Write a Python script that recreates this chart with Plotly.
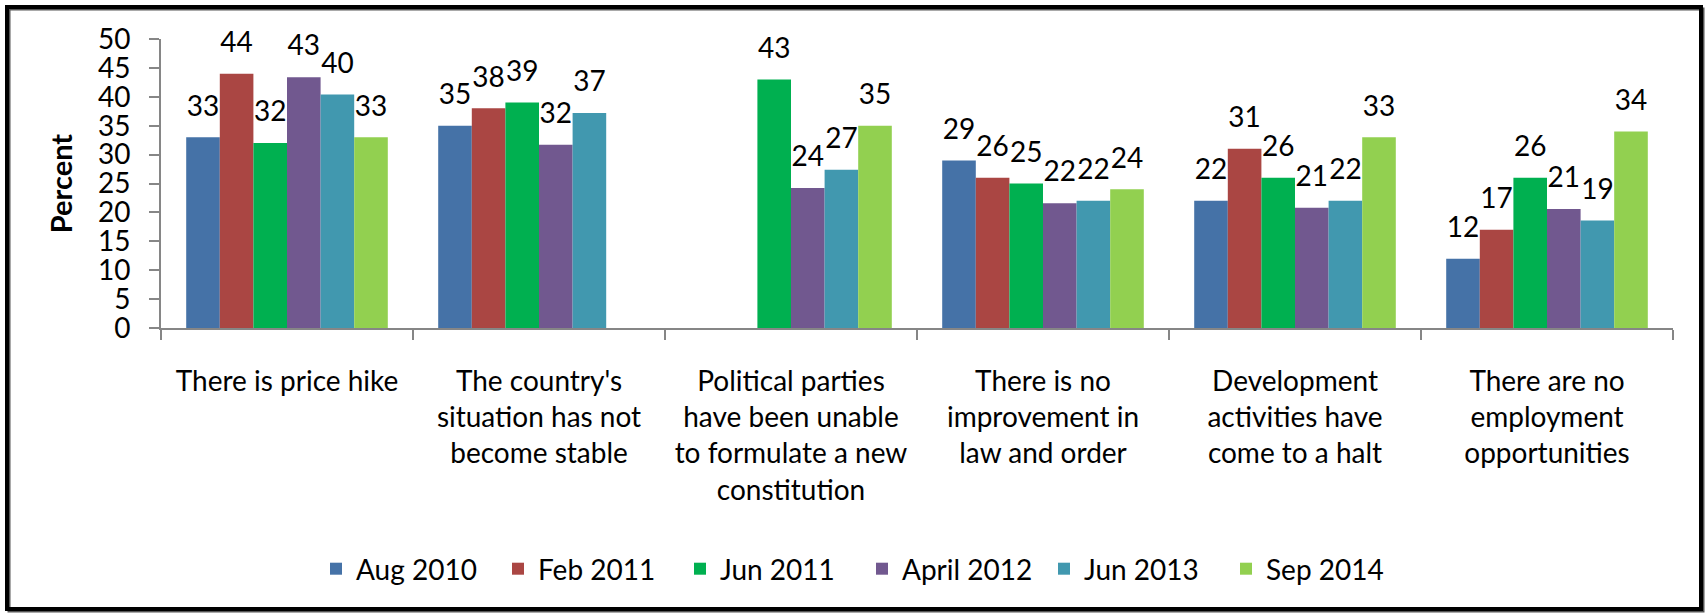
import plotly.graph_objects as go

categories = [
    "There is price hike",
    "The country's<br>situation has not<br>become stable",
    "Political parties<br>have been unable<br>to formulate a new<br>constitution",
    "There is no<br>improvement in<br>law and order",
    "Development<br>activities have<br>come to a halt",
    "There are no<br>employment<br>opportunities",
]

series_names = ["Aug 2010", "Feb 2011", "Jun 2011", "April 2012", "Jun 2013", "Sep 2014"]

aug_2010 = [33, 35, None, 29, 22, 12]
feb_2011 = [44, 38, None, 26, 31, 17]
jun_2011 = [32, 39, 43, 25, 26, 26]
apr_2012 = [43.4, 31.7, 24.2, 21.6, 20.8, 20.6]
jun_2013 = [40.4, 37.2, 27.4, 22.0, 22.0, 18.6]
sep_2014 = [33, None, 35, 24, 33, 34]

series_values = [aug_2010, feb_2011, jun_2011, apr_2012, jun_2013, sep_2014]
colors = ["#4572A7", "#AA4643", "#00B050", "#71588F", "#4198AF", "#92D050"]

y_ticks = [0, 5, 10, 15, 20, 25, 30, 35, 40, 45, 50]

FONT = "Lato, 'Open Sans', sans-serif"

fig = go.Figure()
for name, vals, col in zip(series_names, series_values, colors):
    fig.add_trace(go.Bar(
        name=name,
        x=categories,
        y=vals,
        marker=dict(color=col, line=dict(width=0)),
        offsetgroup=name,
        hoverinfo="skip",
    ))

# value labels, grouped like the bars, lifted above the bar tops
for name, vals in zip(series_names, series_values):
    fig.add_trace(go.Scatter(
        x=categories,
        y=vals,
        mode="markers+text",
        marker=dict(size=22, color="rgba(0,0,0,0)"),
        texttemplate="%{y:.0f}",
        textposition="top center",
        textfont=dict(size=28, color="black", family=FONT),
        offsetgroup=name,
        showlegend=False,
        cliponaxis=False,
        hoverinfo="skip",
    ))

W, H = 1705, 613
L, R, T, B = 161, 32, 39, 285
pw = W - L - R
ph = H - T - B

def px(x):
    return (x - L) / pw

def py(y):
    return (H - B - y) / ph

fig.update_layout(
    width=W, height=H,
    barmode="group",
    bargap=0.2,
    bargroupgap=0,
    scattermode="group",
    scattergap=0.2,
    plot_bgcolor="white",
    paper_bgcolor="white",
    margin=dict(l=L, r=R, t=T, b=B, autoexpand=False),
    font=dict(family=FONT, color="black", size=26),
    showlegend=True,
    legend=dict(
        orientation="h",
        x=px(862), y=py(569),
        xanchor="center", yanchor="middle",
        font=dict(size=28, family=FONT, color="black"),
        traceorder="normal",
        itemwidth=30,
        entrywidth=137,
        entrywidthmode="pixels",
    ),
    xaxis=dict(
        showline=True, linecolor="#868686", linewidth=2,
        ticks="outside", ticklen=10, tickcolor="#868686", tickwidth=2,
        tickson="boundaries",
        tickfont=dict(size=28, family=FONT, color="black"),
        ticklabelstandoff=27,
        automargin=False,
        showgrid=False,
    ),
    yaxis=dict(
        range=[0, 50],
        tickvals=y_ticks,
        showline=True, linecolor="#868686", linewidth=2,
        ticks="outside", ticklen=10, tickcolor="#868686", tickwidth=2,
        tickfont=dict(size=28, family=FONT, color="black"),
        ticklabelstandoff=13,
        showgrid=False,
        zeroline=False,
        automargin=False,
        title=dict(text="<b>Percent</b>", font=dict(size=29, family=FONT, color="black"), standoff=17),
    ),
    shapes=[
        dict(type="rect", xref="paper", yref="paper",
             x0=px(9), x1=px(1703), y0=py(611), y1=py(9),
             line=dict(color="#555555", width=3), fillcolor="rgba(0,0,0,0)", layer="below"),
        dict(type="rect", xref="paper", yref="paper",
             x0=px(7), x1=px(1701), y0=py(609), y1=py(7),
             line=dict(color="black", width=4), fillcolor="rgba(0,0,0,0)", layer="below"),
    ],
)

fig.write_html(
    "out.html",
    config={"displayModeBar": False},
    post_script="document.body.style.margin='0';document.body.style.padding='0';document.body.style.overflow='hidden';",
)
